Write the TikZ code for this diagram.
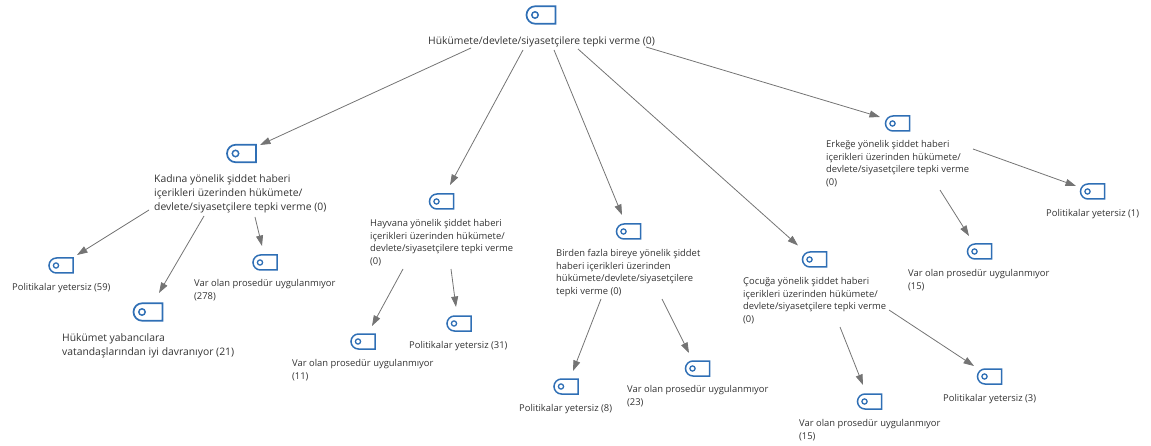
\documentclass[tikz,border=0pt]{standalone}
\usepackage{fontspec}
\setmainfont{Open Sans}
\usetikzlibrary{arrows.meta,shapes.misc}
\definecolor{tagblue}{HTML}{2F6FB5}
\definecolor{linkgray}{HTML}{747474}
\definecolor{labgray}{HTML}{333333}
\tikzset{
  smalltag/.style={rounded rectangle, rounded rectangle right arc=none, draw=tagblue, line width=1.5pt, inner sep=0pt, minimum width=24pt, minimum height=15pt,
    path picture={\draw[tagblue, line width=1.3pt] ([xshift=-5pt]path picture bounding box.center) circle (2.6pt);}},
  bigtag/.style={rounded rectangle, rounded rectangle right arc=none, draw=tagblue, line width=1.7pt, inner sep=0pt, minimum width=29pt, minimum height=17.5pt,
    path picture={\draw[tagblue, line width=1.5pt] ([xshift=-6pt]path picture bounding box.center) circle (3.2pt);}},
  smalllab/.style={anchor=north west, align=left, inner sep=0pt, text=labgray, font=\fontsize{9.4}{12.7}\selectfont},
  biglab/.style={anchor=north west, align=left, inner sep=0pt, text=labgray, font=\fontsize{10.35}{14.2}\selectfont},
  link/.style={draw=linkgray, line width=0.8pt, -{Triangle[length=10.5pt,width=7pt]}},
}
\begin{document}
\begin{tikzpicture}[x=1pt,y=-1pt]
\useasboundingbox (0,0) rectangle (1151,446);
\node[bigtag] (tag0) at (541,15){};
\node[biglab] (lab0) at (428,36){Hükümete/devlete/siyasetçilere tepki verme (0)};
% first branch
\node[bigtag] (tag1) at (241.5,153.5){};
\node[biglab] (lab1) at (154,174){Kadına yönelik şiddet haberi\\içerikleri üzerinden hükümete/\\devlete/siyasetçilere tepki verme (0)};
\node[smalltag] (tag2) at (61,265.5){};
\node[smalllab] (lab2) at (12,283){Politikalar yetersiz (59)};
\node[bigtag] (tag3) at (148,312){};
\node[biglab] (lab3) at (62,333){Hükümet yabancılara\\vatandaşlarından iyi davranıyor (21)};
\node[smalltag] (tag4) at (265,262.5){};
\node[smalllab] (lab4) at (194,279){Var olan prosedür uygulanmıyor\\(278)};
\draw[link] ([shift={(-5,36)}]lab1.north west) -- ([shift={(16,-10.5)}]tag2.center);
\draw[link] ([shift={(50,42)}]lab1.north west) -- ([shift={(11,-19)}]tag3.center);
\draw[link] ([shift={(101,43)}]lab1.north west) -- ([shift={(-3,-16.5)}]tag4.center);
% second branch
\node[smalltag] (tag5) at (441.5,201.5){};
\node[smalllab] (lab5) at (370,219){Hayvana yönelik şiddet haberi\\içerikleri üzerinden hükümete/\\devlete/siyasetçilere tepki verme\\(0)};
\node[smalltag] (tag6) at (363,341.5){};
\node[smalllab] (lab6) at (292,359){Var olan prosedür uygulanmıyor\\(11)};
\node[smalltag] (tag7) at (459,323.5){};
\node[smalllab] (lab7) at (409,341){Politikalar yetersiz (31)};
\draw[link] ([shift={(33,50)}]lab5.north west) -- ([shift={(9,-15.5)}]tag6.center);
\draw[link] ([shift={(81,50)}]lab5.north west) -- ([shift={(-3,-16.5)}]tag7.center);
% third branch
\node[smalltag] (tag8) at (628.5,231.5){};
\node[smalllab] (lab8) at (556,249){Birden fazla bireye yönelik şiddet\\haberi içerikleri üzerinden\\hükümete/devlete/siyasetçilere\\tepki verme (0)};
\node[smalltag] (tag9) at (566,386.5){};
\node[smalllab] (lab9) at (519,404){Politikalar yetersiz (8)};
\node[smalltag] (tag10) at (697.5,368.5){};
\node[smalllab] (lab10) at (627,385){Var olan prosedür uygulanmıyor\\(23)};
\draw[link] ([shift={(45,50)}]lab8.north west) -- ([shift={(7,-15.5)}]tag9.center);
\draw[link] ([shift={(106,50)}]lab8.north west) -- ([shift={(-8.5,-15.5)}]tag10.center);
% fourth branch
\node[smalltag] (tag11) at (814.5,259.5){};
\node[smalllab] (lab11) at (743,277){Çocuğa yönelik şiddet haberi\\içerikleri üzerinden hükümete/\\devlete/siyasetçilere tepki verme\\(0)};
\node[smalltag] (tag12) at (869.5,401.5){};
\node[smalllab] (lab12) at (799,419){Var olan prosedür uygulanmıyor\\(15)};
\node[smalltag] (tag13) at (989.5,376.5){};
\node[smalllab] (lab13) at (943,394){Politikalar yetersiz (3)};
\draw[link] ([shift={(97,50)}]lab11.north west) -- ([shift={(-6.5,-16.5)}]tag12.center);
\draw[link] ([shift={(146,33)}]lab11.north west) -- ([shift={(-15.5,-10.5)}]tag13.center);
% fifth branch
\node[smalltag] (tag14) at (897.5,123.5){};
\node[smalllab] (lab14) at (826,140){Erkeğe yönelik şiddet haberi\\içerikleri üzerinden hükümete/\\devlete/siyasetçilere tepki verme\\(0)};
\node[smalltag] (tag15) at (979.5,251.5){};
\node[smalllab] (lab15) at (908,269){Var olan prosedür uygulanmıyor\\(15)};
\node[smalltag] (tag16) at (1092.5,191.5){};
\node[smalllab] (lab16) at (1046,209){Politikalar yetersiz (1)};
\draw[link] ([shift={(114,50)}]lab14.north west) -- ([shift={(-10.5,-15.5)}]tag15.center);
\draw[link] ([shift={(147,9)}]lab14.north west) -- ([shift={(-16.5,-5.5)}]tag16.center);
% root links
\draw[link] ([shift={(43,12)}]lab0.north west) -- ([shift={(18.5,-8.5)}]tag1.center);
\draw[link] ([shift={(95,14)}]lab0.north west) -- ([shift={(8.5,-16.5)}]tag5.center);
\draw[link] ([shift={(126,14)}]lab0.north west) -- ([shift={(-6.5,-16.5)}]tag8.center);
\draw[link] ([shift={(150,13)}]lab0.north west) -- ([shift={(-16.5,-14)}]tag11.center);
\draw[link] ([shift={(218,11)}]lab0.north west) -- ([shift={(-17.5,-6.5)}]tag14.center);
\end{tikzpicture}
\end{document}
